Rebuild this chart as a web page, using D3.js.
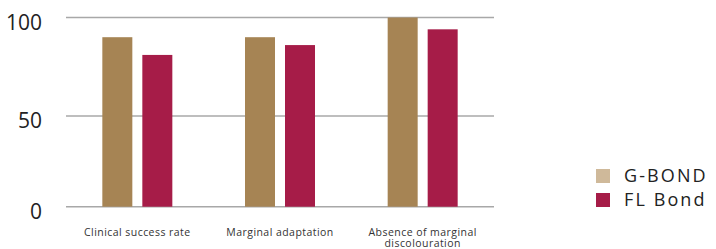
<!DOCTYPE html>
<html>
<head>
<meta charset="utf-8">
<script src="https://cdn.jsdelivr.net/npm/d3@7"></script>
<style>
  body { margin: 0; background: #fff; }
  svg { display: block; font-family: "Open Sans", sans-serif; }
</style>
</head>
<body>
<div id="chart"></div>
<script>
var categories = [["Clinical success rate"], ["Marginal adaptation"], ["Absence of marginal", "discolouration"]];
var series = ["G-BOND", "FL Bond"];
var gBond = [90, 90, 100];
var flBond = [81, 86, 94];
var yTicks = [0, 50, 100];

var width = 716, height = 249;
var barColors = ["#a68454", "#a61c48"];
var legendColors = ["#cfb99a", "#a61c48"];

var svg = d3.select("#chart")
  .append("svg")
    .attr("width", width)
    .attr("height", height);

var catNames = categories.map(function(d) { return d.join(" "); });

var x0 = d3.scaleBand()
  .domain(catNames)
  .range([66, 494])
  .padding(0);

var x1 = d3.scaleBand()
  .domain(series)
  .range([0, 70])
  .paddingInner(0.25)
  .paddingOuter(0);

// gridlines in the source are not evenly spaced
var y = d3.scaleLinear()
  .domain([0, 50, 100])
  .range([206.7, 116, 17.5]);

// gridlines
svg.append("g")
  .selectAll("line")
    .data(yTicks)
  .enter().append("line")
    .attr("x1", 66)
    .attr("x2", 494)
    .attr("y1", function(d) { return y(d); })
    .attr("y2", function(d) { return y(d); })
    .attr("stroke", "#a8a8a8")
    .attr("stroke-width", 1.5);

// y labels
svg.append("g")
  .selectAll("text")
    .data(yTicks)
  .enter().append("text")
    .attr("x", 42)
    .attr("y", function(d) { return y(d) + 5; })
    .attr("dy", "0.35em")
    .attr("text-anchor", "end")
    .attr("font-size", 21)
    .attr("fill", "#222")
    .text(function(d) { return d; });

// bars
var rows = catNames.map(function(c, i) {
  return [{ cat: c, key: series[0], value: gBond[i], color: barColors[0] },
          { cat: c, key: series[1], value: flBond[i], color: barColors[1] }];
});

svg.append("g")
  .selectAll("g")
    .data(rows)
  .enter().append("g")
    .attr("transform", function(d) {
      return "translate(" + (x0(d[0].cat) + x0.bandwidth() / 2 - 35) + ",0)";
    })
  .selectAll("rect")
    .data(function(d) { return d; })
  .enter().append("rect")
    .attr("x", function(d) { return x1(d.key); })
    .attr("width", x1.bandwidth())
    .attr("y", function(d) { return y(d.value); })
    .attr("height", function(d) { return y(0) - y(d.value); })
    .attr("fill", function(d) { return d.color; });

// category labels
var catLabels = svg.append("g")
  .selectAll("text")
    .data(categories)
  .enter().append("text")
    .attr("x", function(d, i) { return x0(catNames[i]) + x0.bandwidth() / 2; })
    .attr("y", 236)
    .attr("text-anchor", "middle")
    .attr("font-size", 10.5)
    .attr("letter-spacing", "0.45px")
    .attr("fill", "#333");
catLabels.selectAll("tspan")
  .data(function(d) { return d; })
  .enter().append("tspan")
    .attr("x", function() { return d3.select(this.parentNode).attr("x"); })
    .attr("dy", function(d, i) { return i ? "1.05em" : 0; })
    .text(function(d) { return d; });

// legend
var legend = svg.append("g")
  .selectAll("g")
    .data(series)
  .enter().append("g")
    .attr("transform", function(d, i) { return "translate(596," + (169 + i * 24) + ")"; });
legend.append("rect")
  .attr("width", 14)
  .attr("height", 14)
  .attr("fill", function(d, i) { return legendColors[i]; });
legend.append("text")
  .attr("x", 28)
  .attr("y", 7)
  .attr("dy", "0.35em")
  .attr("font-size", 18)
  .attr("letter-spacing", "2.1px")
  .attr("fill", "#222")
  .text(function(d) { return d; });
</script>
</body>
</html>
